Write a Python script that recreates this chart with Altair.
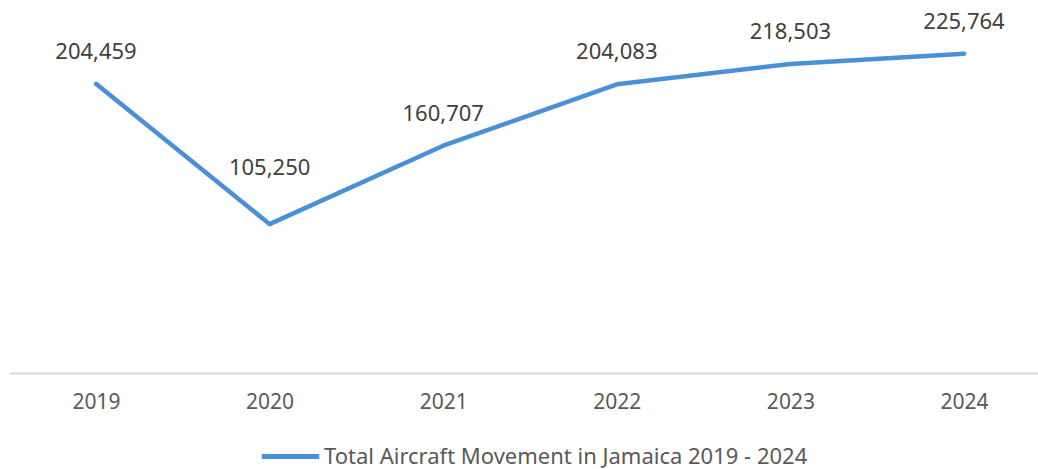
import altair as alt
import pandas as pd

# Total aircraft movements, Jamaica
years = ["2019", "2020", "2021", "2022", "2023", "2024"]
movements = [204459, 105250, 160707, 204083, 218503, 225764]
series_name = "Total Aircraft Movement in Jamaica 2019 - 2024"

df = pd.DataFrame({"year": years, "movements": movements, "series": series_name})

LINE_BLUE = "#4a90d9"
FONT = "Noto Sans"

x = alt.X(
    "year:O",
    scale=alt.Scale(type="point", padding=0.5, range=[9.2, 1050.8]),
    axis=alt.Axis(
        title=None,
        labelAngle=0,
        ticks=False,
        grid=False,
        domainColor="#d9d9d9",
        domainWidth=2,
        labelColor="#595959",
        labelFont=FONT,
        labelFontSize=21,
        labelPadding=18,
    ),
)
y = alt.Y(
    "movements:Q",
    scale=alt.Scale(domain=[0, 263700], nice=False, zero=True),
    axis=None,
)

line = alt.Chart(df).mark_line(
    strokeWidth=4.5, strokeCap="round", strokeJoin="round"
).encode(
    x=x,
    y=y,
    color=alt.Color(
        "series:N",
        scale=alt.Scale(range=[LINE_BLUE]),
        legend=alt.Legend(
            title=None,
            orient="none",
            legendX=259,
            legendY=425,
            symbolType="stroke",
            symbolSize=3300,
            symbolStrokeWidth=5,
            labelFont=FONT,
            labelFontSize=22,
            labelColor="#595959",
            labelOffset=2,
            labelLimit=700,
            padding=0,
        ),
    ),
)

labels_text = dict(
    fontSize=22, font=FONT, color="#404040", align="center", baseline="middle"
)

labels = alt.Chart(df).transform_filter(alt.datum.year != "2020").mark_text(
    dy=-32, **labels_text
).encode(x="year:O", y="movements:Q", text=alt.Text("movements:Q", format=",d"))

label_2020 = alt.Chart(df).transform_filter(alt.datum.year == "2020").mark_text(
    dy=-56, **labels_text
).encode(x="year:O", y="movements:Q", text=alt.Text("movements:Q", format=",d"))

chart = (
    alt.layer(line, labels, label_2020)
    .properties(
        width=1038,
        height=373,
        autosize=alt.AutoSizeParams(type="none"),
        padding={"left": 0, "top": 0, "right": 0, "bottom": 96},
        background="white",
    )
    .configure_view(strokeWidth=0, stroke="transparent")
)

chart.save("out.html", embed_options={"renderer": "svg", "actions": False})
